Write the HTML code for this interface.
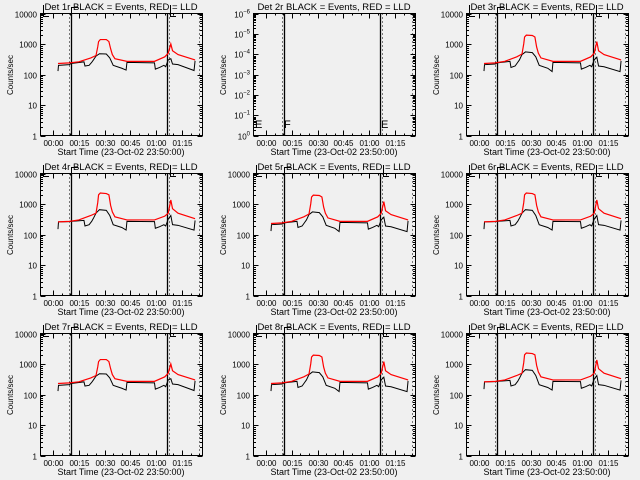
<!DOCTYPE html>
<html><head><meta charset="utf-8"><style>
html,body{margin:0;padding:0;background:#f0f0f0;}
svg{display:block;font-family:"Liberation Sans",sans-serif;}
text{fill:#000;}
</style></head><body>
<svg id="chart" width="640" height="480" viewBox="0 0 640 480">
<rect width="640" height="480" fill="#f0f0f0"/>
</svg>
<script>
const xTickLabels = ["00:00","00:15","00:30","00:45","01:00","01:15"];
const xTickMinutes = [0,15,30,45,60,75];
const yTickLabels = ["1","10","100","1000","10000"];
const yTickValues = [1,10,100,1000,10000];
const emptyTickExps = ["0","-1","-2","-3","-4","-5","-6"];
const panelNames = ["1r","2r","3r","4r","5r","6r","7r","8r","9r"];
const lineSolid = [10.5,66.3];
const lineDotted = [9.3,67.4,85];

const blackLowT = [2.9,3.2,9.5,10.5,18,18.6,21,22.5,23.5,25,27,31,33,35,40,42.5,43,59,59.5,62,64.5,65.5,67,68.5,69.5,72.7,82,82.6];
const blackLowV = [130,200,210,230,260,190,200,250,300,400,480,470,350,200,160,140,250,240,150,170,200,180,300,330,220,210,135,280];
const redLowT = [2.9,9.5,15,22,25,26,26.5,27.5,31,32.5,33.5,34.5,36,43,59,65,67,68.5,69.5,72.7,82.6];
const redLowV = [230,240,260,350,420,800,1200,1400,1400,1200,700,450,330,270,270,380,500,1000,600,450,300];

const blackMidV = [130,210,220,240,270,170,190,250,300,450,550,520,380,200,160,125,250,240,150,170,200,180,300,370,190,180,125,280];
const redMidV = [230,240,270,380,470,1000,1700,1950,1900,1700,800,500,350,270,270,380,500,1200,600,450,300];

const blackHighV = [150,260,265,270,290,190,210,270,340,500,650,620,420,210,170,140,270,265,160,180,210,190,320,420,210,200,140,290];
const redHighV = [260,270,300,420,500,1100,2000,2300,2200,2000,900,550,380,300,300,400,500,1350,700,500,330];

const panelBlack = [blackLowV,null,blackMidV,blackHighV,blackMidV,blackHighV,blackLowV,blackMidV,blackHighV];
const panelRed = [redLowV,null,redMidV,redHighV,redMidV,redHighV,redLowV,redMidV,redHighV];

const NS="http://www.w3.org/2000/svg";
const svg=document.getElementById('chart');
function mk(tag,attrs,parent){const e=document.createElementNS(NS,tag);for(const k in attrs)e.setAttribute(k,attrs[k]);parent.appendChild(e);return e;}
const L=40.5,R=202.5,T=13.5,B=135.5;
function xs(t){return 53+t*1.72;}
function ys(v){return B-Math.log10(v)*30.5;}

panelNames.forEach((nm,i)=>{
  const ox=(i%3)*213, oy=Math.floor(i/3)*160;
  const g=mk('g',{transform:`translate(${ox},${oy})`},svg);
  
  
  const title=mk('text',{x:121,y:10,'font-size':9.5,'text-anchor':'middle'},g);
  title.textContent=`Det ${nm} BLACK = Events, RED = LLD`;
  
  
  const box=mk('rect',{x:L,y:T,width:R-L,height:B-T,fill:'none',stroke:'#000','stroke-width':1},g);
  
  
  xTickMinutes.forEach((m,k)=>{
    const x=Math.round(xs(m))+0.5;
    mk('line',{x1:x,y1:B,x2:x,y2:B-5,stroke:'#000'},g);
    mk('line',{x1:x,y1:T,x2:x,y2:T+5,stroke:'#000'},g);
    for(let s=5;s<15;s+=5){const xm=Math.round(xs(m+s))+0.5;if(xm<R){mk('line',{x1:xm,y1:B,x2:xm,y2:B-2,stroke:'#000'},g);mk('line',{x1:xm,y1:T,x2:xm,y2:T+2,stroke:'#000'},g);}}
    const tl=mk('text',{x:x,y:146,'font-size':8,'text-anchor':'middle'},g);
    tl.textContent=xTickLabels[k];
    
    
  });
  const xt=mk('text',{x:121,y:155,'font-size':9,'text-anchor':'middle'},g);
  xt.textContent='Start Time (23-Oct-02 23:50:00)';
  
  
  const yt=mk('text',{x:0,y:0,'font-size':8,'text-anchor':'middle',transform:'translate(13,75) rotate(-90)'},g);
  yt.textContent='Counts/sec';
  
  
  const nd = i===1?6:4;
  const decH=(B-T)/nd;
  for(let d=0;d<=nd;d++){
    const y=Math.round(B-d*decH)+0.5;
    mk('line',{x1:L,y1:y,x2:L+5,y2:y,stroke:'#000'},g);
    mk('line',{x1:R,y1:y,x2:R-5,y2:y,stroke:'#000'},g);
    if(d<nd)for(let m=2;m<10;m++){const ym=Math.round(y-Math.log10(m)*decH)+0.5;mk('line',{x1:L,y1:ym,x2:L+2.5,y2:ym,stroke:'#000'},g);mk('line',{x1:R,y1:ym,x2:R-2.5,y2:ym,stroke:'#000'},g);}
    const lab=mk('text',{x:37,y:y+3,'font-size':8,'text-anchor':'end'},g);
    if(i===1){lab.textContent='10';const sp=mk('tspan',{dy:-4,'font-size':6},lab);sp.textContent=emptyTickExps[d].replace('-','\u2212');}
    else lab.textContent=yTickLabels[d];
    
    
  }
  lineSolid.forEach(t=>{const x=Math.round(xs(t))+0.5;const l=mk('line',{x1:x,y1:T,x2:x,y2:B,stroke:'#000','stroke-width':1.3},g);});
  lineDotted.forEach(t=>{const x=Math.round(xs(t))+0.5;const l=mk('line',{x1:x,y1:T,x2:x,y2:B,stroke:'#000','stroke-dasharray':'1,3'},g);});
  if(i!==1){
    mk('path',{d:'M43.5,5 V16.5 H49 M71.5,14 V7.5 H78 M170.5,5 V16.5 H176',fill:'none',stroke:'#000'},g);
  } else {
    [['E',42],['F',71],['E',168]].forEach(([c,x])=>{const e=mk('text',{x:x,y:128,'font-size':11},g);e.textContent=c;});
  }
  if(panelBlack[i]){
    const bp=mk('polyline',{points:blackLowT.map((t,k)=>xs(t)+','+ys(panelBlack[i][k])).join(' '),fill:'none',stroke:'#000','stroke-width':1},g);
    
    
    const rp=mk('polyline',{points:redLowT.map((t,k)=>xs(t)+','+ys(panelRed[i][k])).join(' '),fill:'none',stroke:'#ff0000','stroke-width':1.2},g);
    
    
  }
});
</script>
</body></html>
